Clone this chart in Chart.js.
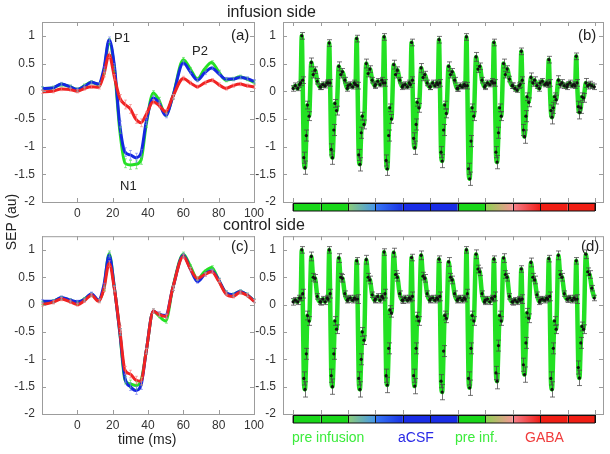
<!DOCTYPE html>
<html>
<head>
<meta charset="utf-8">
<script src="https://cdn.jsdelivr.net/npm/chart.js@4.4.1/dist/chart.umd.min.js"></script>
<style>
  body { margin: 0; background: #fff; font-family: Arial, "Liberation Sans", sans-serif; }
  #fig { position: relative; width: 610px; height: 454px; overflow: hidden; }
  #fig canvas { position: absolute; }
  .lbl { position: absolute; white-space: nowrap; color: #222; line-height: 1; }
</style>
</head>
<body>
<div id="fig">
  <canvas id="chartA" width="272" height="222" style="left:0;top:0"></canvas>
  <canvas id="chartB" width="360" height="222" style="left:250px;top:0"></canvas>
  <canvas id="chartC" width="272" height="232" style="left:0;top:222px"></canvas>
  <canvas id="chartD" width="360" height="232" style="left:250px;top:222px"></canvas>

  <div class="lbl" style="left:227px;top:4px;font-size:16px">infusion side</div>
  <div class="lbl" style="left:223px;top:217px;font-size:16px">control side</div>
  <div class="lbl" style="left:231px;top:27px;font-size:15px">(a)</div>
  <div class="lbl" style="left:578px;top:27px;font-size:15px">(b)</div>
  <div class="lbl" style="left:231px;top:238px;font-size:15px">(c)</div>
  <div class="lbl" style="left:581px;top:238px;font-size:15px">(d)</div>
  <div class="lbl" style="left:114px;top:31px;font-size:13px">P1</div>
  <div class="lbl" style="left:120px;top:179px;font-size:13px">N1</div>
  <div class="lbl" style="left:192px;top:44px;font-size:13px">P2</div>
  <div class="lbl" style="left:118px;top:432px;font-size:14px">time (ms)</div>
  <div class="lbl" style="left:-17px;top:215px;font-size:14px;transform:rotate(-90deg)">SEP (au)</div>
  <div class="lbl" style="left:292px;top:430px;font-size:14px;color:rgb(60,235,60)">pre infusion</div>
  <div class="lbl" style="left:398px;top:430px;font-size:14px;color:rgb(40,40,230)">aCSF</div>
  <div class="lbl" style="left:455px;top:430px;font-size:14px;color:rgb(60,235,60)">pre inf.</div>
  <div class="lbl" style="left:525px;top:430px;font-size:14px;color:rgb(240,60,60)">GABA</div>
</div>

<script>
// ---- data ----
const yTicks = [-2, -1.5, -1, -0.5, 0, 0.5, 1];
const timeTicks = [0, 20, 40, 60, 80, 100];

// (a)/(c): averaged SEP, time in ms
const tMs = [-20, -14, -9, -4, 0, 4, 8, 12, 15, 18, 21, 24, 27, 30, 33, 36,
             39, 43, 46, 50, 54, 60, 64, 68, 72, 76, 80, 84, 88, 92, 96, 100];

const infPre  = [0.05, 0.06, 0.12, 0.08, 0.03, 0.10, 0.16, 0.12, 0.35, 0.90, 0.40, -0.70, -1.30, -1.33, -1.32, -1.25,
                 -0.60, -0.03, -0.15, -0.42, -0.10, 0.57, 0.40, 0.22, 0.40, 0.52, 0.35, 0.20, 0.22, 0.26, 0.22, 0.16];
const infACSF = [0.05, 0.06, 0.13, 0.08, 0.03, 0.09, 0.16, 0.13, 0.40, 0.93, 0.45, -0.60, -1.10, -1.15, -1.20, -1.12,
                 -0.55, -0.12, -0.20, -0.44, -0.10, 0.51, 0.35, 0.20, 0.33, 0.42, 0.32, 0.22, 0.22, 0.25, 0.23, 0.18];
const infGABA = [-0.01, 0.00, 0.04, 0.03, 0.00, 0.05, 0.08, 0.07, 0.30, 0.66, 0.25, -0.12, -0.24, -0.32, -0.50, -0.57,
                 -0.42, -0.19, -0.25, -0.37, -0.10, 0.23, 0.15, 0.08, 0.15, 0.20, 0.12, 0.05, 0.10, 0.13, 0.10, 0.08];
const errInf  = [0.03, 0.03, 0.03, 0.03, 0.03, 0.03, 0.03, 0.03, 0.04, 0.05, 0.05, 0.06, 0.08, 0.08, 0.08, 0.07,
                 0.05, 0.04, 0.04, 0.04, 0.04, 0.04, 0.03, 0.03, 0.03, 0.03, 0.03, 0.03, 0.03, 0.03, 0.03, 0.03];

const ctlPre  = [0.03, 0.06, 0.12, 0.08, 0.03, 0.10, 0.18, 0.08, 0.30, 0.93, 0.30, -0.50, -1.38, -1.45, -1.48, -1.40,
                 -0.85, -0.12, -0.20, -0.30, 0.30, 0.92, 0.70, 0.47, 0.60, 0.68, 0.45, 0.22, 0.18, 0.24, 0.18, 0.07];
const ctlACSF = [0.06, 0.06, 0.13, 0.08, 0.05, 0.09, 0.20, 0.08, 0.35, 0.90, 0.30, -0.50, -1.35, -1.50, -1.57, -1.48,
                 -0.85, -0.12, -0.17, -0.20, 0.30, 0.90, 0.65, 0.42, 0.55, 0.62, 0.45, 0.22, 0.18, 0.24, 0.18, 0.07];
const ctlGABA = [0.00, 0.04, 0.10, 0.05, 0.00, 0.07, 0.17, 0.06, 0.28, 0.75, 0.28, -0.45, -1.20, -1.27, -1.38, -1.40,
                 -0.85, -0.12, -0.18, -0.22, 0.30, 0.88, 0.65, 0.48, 0.55, 0.60, 0.43, 0.20, 0.15, 0.22, 0.17, 0.06];
const errCtl  = [0.03, 0.03, 0.03, 0.03, 0.03, 0.03, 0.03, 0.03, 0.04, 0.05, 0.05, 0.06, 0.07, 0.07, 0.07, 0.07,
                 0.05, 0.04, 0.04, 0.04, 0.04, 0.04, 0.03, 0.03, 0.03, 0.03, 0.03, 0.03, 0.03, 0.03, 0.03, 0.03];

// (b)/(d): 11 successive recordings, each a -20..100 ms sweep
const tSeg = [-20, -10, 0, 8, 13, 18, 22, 27, 32, 38, 43, 50, 60, 68, 76, 86, 97];
const recPhase = ['pre', 'pre', 'toACSF', 'aCSF1', 'aCSF', 'aCSF', 'pre', 'toGABA', 'GABA1', 'GABA', 'GABA'];

const infRec = [
  [0.05, 0.10, 0.05, 0.12, 0.15, 1.00, 0.20, -1.20, -1.38, -0.80, -0.25, -0.45, 0.52, 0.30, 0.38, 0.18, 0.08],
  [0.08, 0.12, 0.10, 0.15, 0.15, 0.87, 0.15, -1.05, -1.20, -0.70, -0.22, -0.35, 0.45, 0.30, 0.35, 0.20, 0.05],
  [0.10, 0.12, 0.08, 0.15, 0.12, 0.95, 0.10, -1.15, -1.32, -0.75, -0.45, -0.60, 0.50, 0.32, 0.40, 0.20, 0.10],
  [0.12, 0.18, 0.12, 0.20, 0.15, 0.98, 0.15, -1.25, -1.40, -0.80, -0.30, -0.50, 0.48, 0.30, 0.38, 0.20, 0.08],
  [0.10, 0.12, 0.08, 0.15, 0.12, 0.88, 0.20, -0.85, -1.02, -0.60, -0.20, -0.30, 0.42, 0.25, 0.30, 0.15, 0.08],
  [0.08, 0.15, 0.10, 0.15, 0.12, 0.93, 0.15, -1.10, -1.26, -0.70, -0.25, -0.40, 0.45, 0.30, 0.35, 0.20, 0.05],
  [0.05, 0.10, 0.08, 0.12, 0.10, 0.98, 0.10, -1.40, -1.58, -0.90, -0.30, -0.45, 0.62, 0.40, 0.45, 0.20, 0.08],
  [0.10, 0.15, 0.12, 0.18, 0.15, 0.88, 0.15, -1.10, -1.28, -0.75, -0.30, -0.45, 0.50, 0.30, 0.40, 0.22, 0.10],
  [0.10, 0.05, 0.02, 0.10, 0.12, 0.72, 0.20, -0.70, -0.82, -0.45, -0.10, -0.20, 0.25, 0.15, 0.20, 0.10, 0.05],
  [0.15, 0.18, 0.12, 0.15, 0.12, 0.57, 0.15, -0.35, -0.47, -0.30, -0.10, -0.15, 0.20, 0.12, 0.15, 0.10, 0.08],
  [0.12, 0.15, 0.10, 0.12, 0.10, 0.63, 0.15, -0.28, -0.38, -0.30, -0.10, -0.12, 0.15, 0.10, 0.12, 0.10, 0.08]
];
const errInfRec = [0.05, 0.05, 0.04, 0.05, 0.05, 0.06, 0.06, 0.10, 0.12, 0.10, 0.07, 0.08, 0.08, 0.06, 0.06, 0.05, 0.05];

const ctlRec = [
  [0.05, 0.08, 0.05, 0.12, 0.12, 1.00, 0.20, -1.35, -1.55, -0.90, -0.20, -0.30, 0.88, 0.50, 0.48, 0.15, 0.05],
  [0.05, 0.10, 0.05, 0.12, 0.10, 1.00, 0.20, -1.30, -1.50, -0.90, -0.30, -0.45, 0.85, 0.50, 0.48, 0.20, 0.08],
  [0.10, 0.12, 0.08, 0.12, 0.10, 0.80, 0.10, -1.35, -1.55, -1.00, -0.50, -0.65, 0.82, 0.50, 0.45, 0.18, 0.08],
  [0.10, 0.15, 0.08, 0.15, 0.12, 0.96, 0.20, -1.30, -1.47, -0.80, -0.10, -0.15, 0.95, 0.55, 0.50, 0.20, 0.08],
  [0.08, 0.12, 0.08, 0.12, 0.10, 0.86, 0.15, -1.30, -1.49, -0.80, -0.22, -0.30, 0.90, 0.52, 0.48, 0.20, 0.08],
  [0.10, 0.12, 0.08, 0.12, 0.10, 0.83, 0.15, -1.40, -1.60, -0.85, -0.20, -0.25, 0.78, 0.50, 0.45, 0.20, 0.08],
  [0.10, 0.12, 0.08, 0.12, 0.10, 1.00, 0.20, -1.35, -1.52, -0.80, -0.20, -0.30, 0.92, 0.65, 0.60, 0.20, 0.05],
  [0.08, 0.10, 0.05, 0.12, 0.10, 0.83, 0.15, -1.25, -1.40, -0.75, -0.20, -0.30, 0.85, 0.55, 0.50, 0.15, 0.05],
  [0.05, 0.08, 0.05, 0.10, 0.08, 0.65, 0.10, -1.10, -1.28, -0.70, -0.15, -0.25, 0.77, 0.50, 0.45, 0.18, 0.05],
  [0.08, 0.10, 0.08, 0.12, 0.10, 0.84, 0.15, -1.35, -1.55, -0.80, -0.30, -0.45, 0.90, 0.55, 0.50, 0.20, 0.10],
  [0.10, 0.12, 0.08, 0.12, 0.10, 0.80, 0.10, -1.15, -1.34, -0.70, -0.40, -0.45, 0.92, 0.60, 0.55, 0.30, 0.12]
];
const errCtlRec = [0.06, 0.05, 0.05, 0.05, 0.05, 0.06, 0.08, 0.12, 0.14, 0.10, 0.08, 0.08, 0.08, 0.07, 0.07, 0.05, 0.05];

// ---- styles ----
const GREEN = 'rgb(35,225,35)';
const BLUE = 'rgb(20,40,225)';
const RED = 'rgb(240,35,35)';
const phaseFill = {
  pre:    ['rgb(25,215,25)', 'rgb(25,215,25)'],
  toACSF: ['rgb(140,205,120)', 'rgb(70,150,235)'],
  aCSF1:  ['rgb(55,120,245)', 'rgb(25,50,230)'],
  aCSF:   ['rgb(25,45,230)', 'rgb(25,45,230)'],
  toGABA: ['rgb(140,210,80)', 'rgb(245,150,150)'],
  GABA1:  ['rgb(245,130,140)', 'rgb(240,30,25)'],
  GABA:   ['rgb(240,30,20)', 'rgb(240,30,20)']
};
const sweep = 120; // ms per recording (-20..100)

// frame with inward ticks on all sides (matlab box)
const framePlugin = {
  id: 'frame',
  afterDatasetsDraw(chart) {
    const { ctx, chartArea: a, scales: { x, y } } = chart;
    ctx.save();
    ctx.strokeStyle = '#9c9c9c';
    ctx.lineWidth = 1;
    ctx.strokeRect(a.left + 0.5, a.top + 0.5, a.right - a.left, a.bottom - a.top);
    ctx.beginPath();
    x.ticks.forEach(t => {
      const p = Math.round(x.getPixelForValue(t.value)) + 0.5;
      ctx.moveTo(p, a.top); ctx.lineTo(p, a.top + 4);
      ctx.moveTo(p, a.bottom); ctx.lineTo(p, a.bottom - 4);
    });
    y.ticks.forEach(t => {
      const p = Math.round(y.getPixelForValue(t.value)) + 0.5;
      ctx.moveTo(a.left, p); ctx.lineTo(a.left + 4, p);
      ctx.moveTo(a.right, p); ctx.lineTo(a.right - 4, p);
    });
    ctx.stroke();
    ctx.restore();
  }
};

// error bars from dataset.errs
const errPlugin = {
  id: 'errbars',
  afterDatasetsDraw(chart) {
    const { ctx, scales: { y } } = chart;
    ctx.save();
    chart.data.datasets.forEach((ds, i) => {
      if (!ds.errs) return;
      const meta = chart.getDatasetMeta(i);
      ctx.strokeStyle = ds.errColor;
      ctx.lineWidth = 1;
      ctx.beginPath();
      meta.data.forEach((pt, j) => {
        const v = ds.data[j].y, e = ds.errs[j];
        const px = Math.round(pt.x) + 0.5;
        const y1 = y.getPixelForValue(v + e), y2 = y.getPixelForValue(v - e);
        ctx.moveTo(px, y1); ctx.lineTo(px, y2);
        ctx.moveTo(px - ds.cap, y1); ctx.lineTo(px + ds.cap, y1);
        ctx.moveTo(px - ds.cap, y2); ctx.lineTo(px + ds.cap, y2);
      });
      ctx.stroke();
      if (ds.dotColor) {
        ctx.fillStyle = ds.dotColor;
        meta.data.forEach(pt => {
          ctx.beginPath(); ctx.arc(pt.x, pt.y, 1.6, 0, Math.PI * 2); ctx.fill();
        });
      }
    });
    ctx.restore();
  }
};

// condition colour bar below the axis of (b)/(d)
const barPlugin = {
  id: 'condbar',
  afterDraw(chart) {
    if (!chart.options.plugins.condbar) return;
    const { ctx, chartArea: a, scales: { x } } = chart;
    const top = a.bottom + 1, h = 8;
    ctx.save();
    recPhase.forEach((ph, k) => {
      const x0 = x.getPixelForValue(k * sweep), x1 = x.getPixelForValue((k + 1) * sweep);
      const g = ctx.createLinearGradient(x0, 0, x1, 0);
      g.addColorStop(0, phaseFill[ph][0]);
      g.addColorStop(1, phaseFill[ph][1]);
      ctx.fillStyle = g;
      ctx.fillRect(x0, top, x1 - x0, h);
    });
    ctx.strokeStyle = '#111';
    ctx.lineWidth = 1;
    ctx.beginPath();
    for (let k = 0; k <= recPhase.length; k++) {
      const p = Math.round(x.getPixelForValue(k * sweep)) + 0.5;
      ctx.moveTo(p, top); ctx.lineTo(p, top + h);
    }
    const xs = x.getPixelForValue(0), xe = x.getPixelForValue(recPhase.length * sweep);
    ctx.rect(xs, top + 0.5, xe - xs, h - 0.5);
    ctx.stroke();
    ctx.restore();
  }
};

function makeOptions(w, h, box, xCfg, withBar) {
  return {
    responsive: false,
    animation: false,
    events: [],
    layout: { padding: { left: 0, top: box.top, right: w - box.right, bottom: 0 } },
    plugins: { legend: { display: false }, tooltip: { enabled: false }, condbar: withBar },
    scales: {
      x: Object.assign({
        type: 'linear',
        grid: { display: false, drawTicks: false },
        border: { display: false },
        afterFit: s => { s.height = h - box.bottom; }
      }, xCfg),
      y: {
        type: 'linear',
        min: -2, max: 1.25,
        grid: { display: false, drawTicks: false },
        border: { display: false },
        afterBuildTicks: s => { s.ticks = yTicks.map(v => ({ value: v })); },
        ticks: { color: '#333', font: { size: 12, family: 'Arial' }, padding: 7,
                 callback: v => String(v) },
        afterFit: s => { s.width = box.left; }
      }
    }
  };
}

const timeAxis = {
  min: -20, max: 100,
  afterBuildTicks: s => { s.ticks = [-20].concat(timeTicks).map(v => ({ value: v })); },
  ticks: { color: '#333', font: { size: 12, family: 'Arial' }, padding: 4,
           callback: v => (v < 0 ? '' : String(v)) }
};

const recAxis = {
  min: -44, max: recPhase.length * sweep + 35,
  afterBuildTicks: s => { s.ticks = recPhase.map((p, k) => ({ value: k * sweep })).concat([{ value: recPhase.length * sweep }]); },
  ticks: { display: false }
};

function meanSet(vals, errs, color, errColor, order) {
  return {
    data: tMs.map((t, i) => ({ x: t, y: vals[i] })),
    borderColor: color, borderWidth: 3, pointRadius: 0,
    cubicInterpolationMode: 'monotone', order: order,
    errs: errs, errColor: errColor, cap: 1.5
  };
}

function recSet(recs, errRow) {
  const pts = [], errs = [];
  recs.forEach((r, k) => r.forEach((v, j) => {
    pts.push({ x: k * sweep + tSeg[j] + 20, y: v });
    errs.push(errRow[j]);
  }));
  return {
    data: pts, borderColor: GREEN, borderWidth: 4.5, pointRadius: 0,
    cubicInterpolationMode: 'monotone',
    errs: errs, errColor: 'rgba(70,70,70,0.75)', cap: 2.5, dotColor: '#111'
  };
}

const plugins = [framePlugin, errPlugin, barPlugin];

new Chart(document.getElementById('chartA'), {
  type: 'line',
  data: { datasets: [
    meanSet(infPre, errInf, GREEN, 'rgba(60,220,60,0.55)', 3),
    meanSet(infACSF, errInf, BLUE, 'rgba(110,120,240,0.55)', 2),
    meanSet(infGABA, errInf, RED, 'rgba(245,130,130,0.6)', 1)
  ] },
  options: makeOptions(272, 222, { left: 42, top: 22, right: 254, bottom: 202 }, timeAxis, false),
  plugins: plugins
});

new Chart(document.getElementById('chartB'), {
  type: 'line',
  data: { datasets: [recSet(infRec, errInfRec)] },
  options: makeOptions(360, 222, { left: 33, top: 22, right: 353, bottom: 202 }, recAxis, true),
  plugins: plugins
});

new Chart(document.getElementById('chartC'), {
  type: 'line',
  data: { datasets: [
    meanSet(ctlPre, errCtl, GREEN, 'rgba(60,220,60,0.55)', 3),
    meanSet(ctlACSF, errCtl, BLUE, 'rgba(110,120,240,0.55)', 2),
    meanSet(ctlGABA, errCtl, RED, 'rgba(245,130,130,0.6)', 1)
  ] },
  options: makeOptions(272, 232, { left: 42, top: 11, right: 254, bottom: 192 }, timeAxis, false),
  plugins: plugins
});

new Chart(document.getElementById('chartD'), {
  type: 'line',
  data: { datasets: [recSet(ctlRec, errCtlRec)] },
  options: makeOptions(360, 232, { left: 33, top: 11, right: 353, bottom: 192 }, recAxis, true),
  plugins: plugins
});
</script>
</body>
</html>
